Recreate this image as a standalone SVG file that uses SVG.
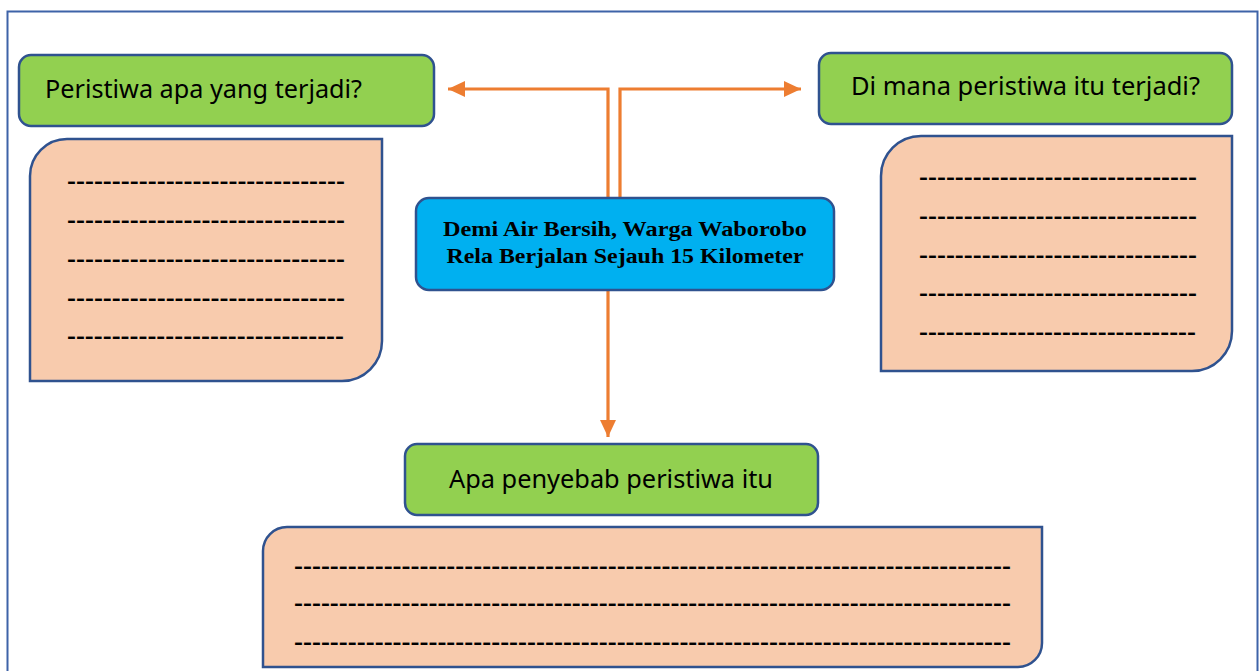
<svg xmlns="http://www.w3.org/2000/svg" width="1259" height="671" viewBox="0 0 1259 671">
<style>
.frame{fill:none;stroke:#3E63A8;stroke-width:2}
.q{fill:#92D050;stroke:#2F528F;stroke-width:2.5}
.ans{fill:#F8CBAD;stroke:#2F528F;stroke-width:2.5}
.title{fill:#00B0F0;stroke:#2F528F;stroke-width:2.5}
.qt{font-family:"Noto Sans","Open Sans",sans-serif;font-size:26px;fill:#000}
.tt{font-family:"Liberation Serif","Times New Roman",serif;font-weight:bold;font-size:22px;fill:#000;text-anchor:middle}
.d{font-family:"Liberation Sans",Arial,sans-serif;font-weight:bold;font-size:20px;fill:#000}
.c{fill:none;stroke:#ED7D31;stroke-width:3.2}
</style>
<defs>
<marker id="ah" markerWidth="17" markerHeight="16" refX="17" refY="8" orient="auto" markerUnits="userSpaceOnUse">
<path d="M0,0 L17,8 L0,16 Z" fill="#ED7D31"/>
</marker>
</defs>
<rect width="1259" height="671" fill="#fff"/>
<rect class="frame" x="7.5" y="11.5" width="1250" height="670"/>

<g id="connectors">
<path class="c" d="M608,198 L608,89 L448,89" marker-end="url(#ah)"/>
<path class="c" d="M620,198 L620,89 L801,89" marker-end="url(#ah)"/>
<path class="c" d="M608,290 L608,437" marker-end="url(#ah)"/>
</g>

<g id="q1">
<rect class="q" x="19" y="55" width="415" height="71" rx="12"/>
<text class="qt" x="45" y="98" textLength="317" lengthAdjust="spacingAndGlyphs">Peristiwa apa yang terjadi?</text>
</g>
<g id="a1">
<path class="ans" d="M67,139 L382,139 L382,341 A40,40 0 0 1 342,381 L30,381 L30,176 A37,37 0 0 1 67,139 Z"/>
<text class="d" x="67" y="188" textLength="278" lengthAdjust="spacingAndGlyphs">-------------------------------</text>
<text class="d" x="67" y="227" textLength="278" lengthAdjust="spacingAndGlyphs">-------------------------------</text>
<text class="d" x="67" y="266" textLength="278" lengthAdjust="spacingAndGlyphs">-------------------------------</text>
<text class="d" x="67" y="305" textLength="278" lengthAdjust="spacingAndGlyphs">-------------------------------</text>
<text class="d" x="67" y="343" textLength="277" lengthAdjust="spacingAndGlyphs">-------------------------------</text>
</g>

<g id="q2">
<rect class="q" x="819" y="53" width="413" height="71" rx="12"/>
<text class="qt" x="851" y="95" textLength="349" lengthAdjust="spacingAndGlyphs">Di mana peristiwa itu terjadi?</text>
</g>
<g id="a2">
<path class="ans" d="M921,136 L1232,136 L1232,331 A40,40 0 0 1 1192,371 L881,371 L881,176 A40,40 0 0 1 921,136 Z"/>
<text class="d" x="919" y="184" textLength="278" lengthAdjust="spacingAndGlyphs">-------------------------------</text>
<text class="d" x="919" y="223" textLength="278" lengthAdjust="spacingAndGlyphs">-------------------------------</text>
<text class="d" x="919" y="262" textLength="278" lengthAdjust="spacingAndGlyphs">-------------------------------</text>
<text class="d" x="919" y="300" textLength="278" lengthAdjust="spacingAndGlyphs">-------------------------------</text>
<text class="d" x="919" y="339" textLength="277" lengthAdjust="spacingAndGlyphs">-------------------------------</text>
</g>

<g id="title">
<rect class="title" x="416" y="198" width="418" height="92" rx="13"/>
<text class="tt" x="625" y="236" textLength="364" lengthAdjust="spacingAndGlyphs">Demi Air Bersih, Warga Waborobo</text>
<text class="tt" x="625" y="263" textLength="357" lengthAdjust="spacingAndGlyphs">Rela Berjalan Sejauh 15 Kilometer</text>
</g>

<g id="q3">
<rect class="q" x="405" y="444" width="413" height="71" rx="12"/>
<text class="qt" x="449" y="488" textLength="324" lengthAdjust="spacingAndGlyphs">Apa penyebab peristiwa itu</text>
</g>
<g id="a3">
<path class="ans" d="M287,527 L1042,527 L1042,643 A24,24 0 0 1 1018,667 L263,667 L263,551 A24,24 0 0 1 287,527 Z"/>
<text class="d" x="294" y="573" textLength="717" lengthAdjust="spacingAndGlyphs">--------------------------------------------------------------------------------</text>
<text class="d" x="294" y="610" textLength="717" lengthAdjust="spacingAndGlyphs">--------------------------------------------------------------------------------</text>
<text class="d" x="294" y="649" textLength="717" lengthAdjust="spacingAndGlyphs">--------------------------------------------------------------------------------</text>
</g>
</svg>
